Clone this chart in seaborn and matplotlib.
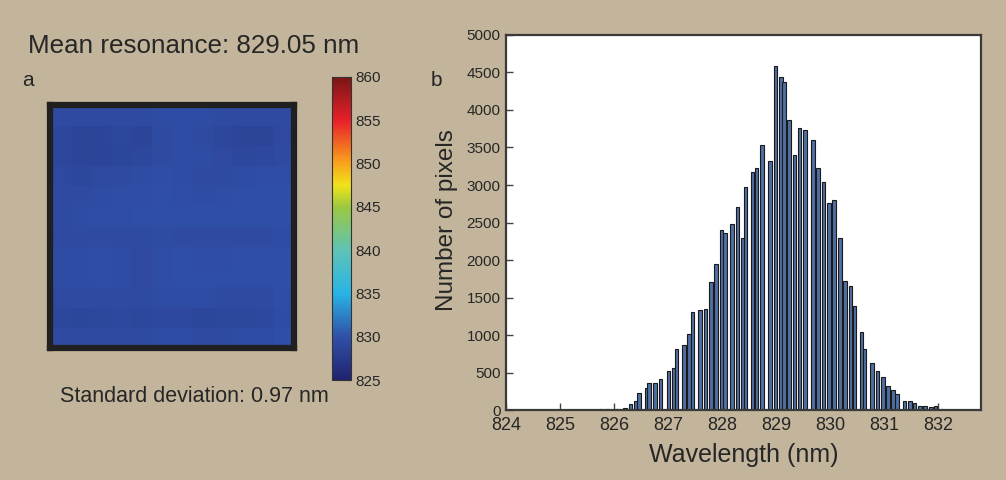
import numpy as np
import seaborn as sns
import matplotlib.pyplot as plt
from matplotlib.colors import LinearSegmentedColormap

# Histogram of resonance wavelengths (panel b) --------------------------------
wavelength_nm = [824.35, 824.55, 825.45, 825.60, 825.75, 825.88, 826.05,
                 826.20, 826.31, 826.40, 826.46, 826.61, 826.65, 826.76, 826.86,
                 827.01, 827.10, 827.16, 827.30, 827.39, 827.45, 827.59, 827.70,
                 827.80, 827.89, 827.99, 828.06, 828.19, 828.29, 828.38, 828.44,
                 828.57, 828.64, 828.74, 828.89, 828.99, 829.09, 829.15, 829.24,
                 829.34, 829.44, 829.54, 829.69, 829.78, 829.88, 829.98, 830.08,
                 830.19, 830.28, 830.38, 830.46, 830.59, 830.64, 830.78, 830.88,
                 830.98, 831.08, 831.17, 831.24, 831.38, 831.48, 831.57, 831.67,
                 831.76, 831.87, 831.96, 832.07, 832.17, 832.27, 832.37]
pixel_counts = [3, 2, 4, 5, 8, 10, 15,
                22, 80, 124, 222, 300, 365, 365, 413,
                520, 560, 820, 873, 1013, 1305, 1335, 1346,
                1708, 1946, 2400, 2364, 2480, 2711, 2300, 2977,
                3177, 3222, 3533, 3320, 4590, 4435, 4368, 3862,
                3400, 3755, 3729, 3600, 3226, 3035, 2755, 2795,
                2289, 1724, 1653, 1393, 1040, 809, 622, 516,
                440, 324, 271, 218, 120, 120, 93, 55,
                50, 45, 53, 10, 6, 5, 4]
x_ticks = [824, 825, 826, 827, 828, 829, 830, 831, 832]
y_ticks = list(range(0, 5001, 500))

# Resonance map (panel a), coarse read of the colours, nm ---------------------
resonance_map = np.array([
    [829.5, 829.4, 829.4, 829.5, 829.5, 829.6, 829.6, 829.6, 829.5, 829.5, 829.5, 829.5],
    [829.1, 828.8, 828.7, 829.0, 828.8, 829.4, 829.6, 829.4, 829.0, 828.8, 828.7, 829.3],
    [829.0, 828.8, 828.8, 828.9, 829.1, 829.5, 829.6, 829.6, 829.3, 829.1, 829.2, 829.4],
    [829.3, 829.1, 829.3, 829.5, 829.6, 829.7, 829.6, 829.5, 829.4, 829.6, 829.7, 829.7],
    [829.5, 829.5, 829.6, 829.7, 829.7, 829.8, 829.7, 829.6, 829.7, 829.8, 829.8, 829.8],
    [829.5, 829.6, 829.7, 829.7, 829.8, 829.9, 829.9, 829.8, 829.8, 829.8, 829.9, 829.9],
    [829.3, 829.4, 829.4, 829.4, 829.5, 829.6, 829.5, 829.4, 829.4, 829.4, 829.5, 829.6],
    [829.6, 829.6, 829.7, 829.6, 829.3, 829.7, 829.8, 829.7, 829.7, 829.8, 829.8, 829.9],
    [829.6, 829.6, 829.7, 829.6, 829.3, 829.7, 829.8, 829.8, 829.8, 829.8, 829.8, 829.9],
    [829.3, 829.4, 829.4, 829.5, 829.5, 829.6, 829.6, 829.6, 829.5, 829.5, 829.5, 829.7],
    [829.0, 828.9, 829.0, 829.2, 829.0, 829.2, 829.2, 828.9, 829.0, 829.1, 829.2, 829.6],
    [829.4, 829.4, 829.5, 829.5, 829.5, 829.6, 829.6, 829.5, 829.5, 829.6, 829.6, 829.8],
])
cbar_ticks = [825, 830, 835, 840, 845, 850, 855, 860]

BG = "#c3b59b"
TXT = "#262626"

sns.set_style("white")
plt.rcParams["font.family"] = ["Liberation Sans", "DejaVu Sans"]

# muted jet, as in the original colour bar
jet_muted = LinearSegmentedColormap.from_list("jet_muted", [
    (0.0, "#20246e"), (5 / 35, "#3050a8"), (10 / 35, "#28b4e6"),
    (15 / 35, "#5fc3b5"), (20 / 35, "#9cc83f"), (22.5 / 35, "#f0e31a"),
    (25 / 35, "#f9a51c"), (30 / 35, "#e8202a"), (1.0, "#7a1616")])

fig = plt.figure(figsize=(10.06, 4.8), dpi=100, facecolor=BG)

# Panel a ---------------------------------------------------------------------
ax_map = fig.add_axes([0.05, 0.275, 0.2422, 0.5056])
ax_cb = fig.add_axes([0.3297, 0.2083, 0.0192, 0.6313])
sns.heatmap(resonance_map, cmap=jet_muted, vmin=825, vmax=860, ax=ax_map,
            cbar_ax=ax_cb, xticklabels=False, yticklabels=False)
for sp in ax_map.spines.values():
    sp.set_visible(True)
    sp.set_linewidth(4.5)
    sp.set_color("#202020")
cb = ax_map.collections[0].colorbar
cb.set_ticks(cbar_ticks)
cb.outline.set_edgecolor("#333333")
cb.outline.set_linewidth(0.8)
ax_cb.tick_params(direction="in", length=3, width=0.8, labelsize=11,
                  labelcolor=TXT, color="#333333", pad=3)

fig.text(0.028, 0.904, "Mean resonance: 829.05 nm", fontsize=18.7, color=TXT, va="center")
fig.text(0.022, 0.833, "a", fontsize=15, color=TXT, va="center")
fig.text(0.193, 0.173, "Standard deviation: 0.97 nm", fontsize=15.5, color=TXT,
         ha="center", va="center")

# Panel b ---------------------------------------------------------------------
ax_h = fig.add_axes([0.503, 0.1458, 0.4722, 0.7813])
ax_h.set_facecolor("white")
sns.barplot(x=wavelength_nm, y=pixel_counts, native_scale=True, width=1.6,
            color="#4f6fa3", saturation=1, edgecolor="#1a1a1a", linewidth=0.8,
            errorbar=None, ax=ax_h)
ax_h.set_xlim(824, 832.8)
ax_h.set_ylim(0, 5000)
ax_h.set_xticks(x_ticks)
ax_h.set_xticklabels([str(t) for t in x_ticks])
ax_h.set_yticks(y_ticks)
ax_h.set_yticklabels([str(t) for t in y_ticks])
ax_h.tick_params(axis="x", direction="in", length=5, width=1, labelsize=13,
                 labelcolor=TXT, color="#444444", pad=5, bottom=True)
ax_h.tick_params(axis="y", direction="in", length=5, width=1, labelsize=11,
                 labelcolor=TXT, color="#444444", pad=4, left=True)
ax_h.set_xlabel("")
ax_h.set_ylabel("")
for sp in ax_h.spines.values():
    sp.set_visible(True)
    sp.set_linewidth(1.6)
    sp.set_color("#3a3a3a")

fig.text(0.428, 0.833, "b", fontsize=15, color=TXT, va="center")
fig.text(0.444, 0.542, "Number of pixels", fontsize=17.5, color=TXT,
         rotation=90, ha="center", va="center")
fig.text(0.739, 0.052, "Wavelength (nm)", fontsize=18, color=TXT,
         ha="center", va="center")

fig.savefig("out.png", dpi=100, facecolor=BG)
